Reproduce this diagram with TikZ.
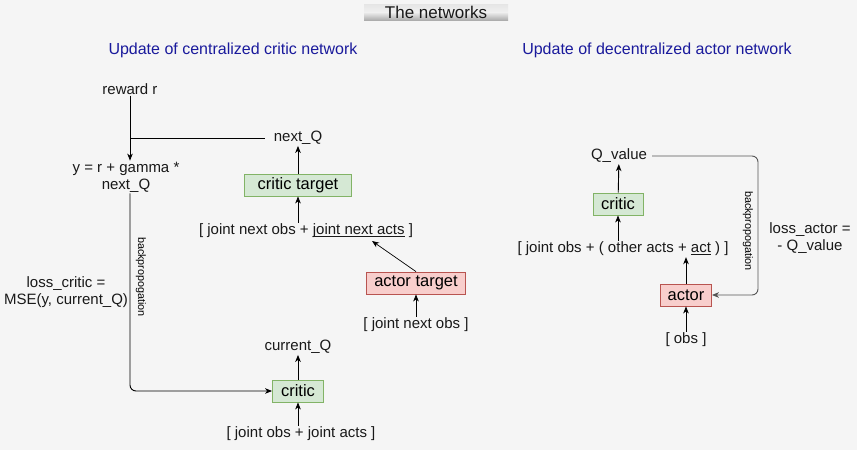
\documentclass[tikz,border=0pt]{standalone}
\usepackage{fontspec}
\setmainfont{Liberation Sans}
\usetikzlibrary{arrows.meta}
\definecolor{bgc}{HTML}{F5F5F5}
\definecolor{gfill}{HTML}{D5E8D4}
\definecolor{gdraw}{HTML}{82B366}
\definecolor{rfill}{HTML}{F8CECC}
\definecolor{rdraw}{HTML}{B85450}
\definecolor{headblue}{HTML}{1A1A9C}
\definecolor{fbgray}{HTML}{555555}
\newcommand\myul[1]{\setbox0\hbox{#1}\rlap{\rule[-1.8pt]{\wd0}{0.7pt}}\copy0\relax}
\begin{document}
\begin{tikzpicture}[x=1pt,y=-1pt,
  lbl/.style={font=\fontsize{15}{17}\selectfont, inner sep=1pt, align=center, text=black!90},
  box/.style={draw, line width=0.8pt, font=\fontsize{16.5}{18}\selectfont, inner sep=0pt, minimum height=22pt},
  gbox/.style={box, fill=gfill, draw=gdraw},
  rbox/.style={box, fill=rfill, draw=rdraw},
  arr/.style={-{Stealth[length=7pt,width=5.5pt,inset=2pt]}, line width=0.9pt},
  head/.style={font=\fontsize{16}{18}\selectfont, text=headblue},
  bp/.style={font=\fontsize{10.8}{12}\selectfont, rotate=-90, inner sep=0pt}]
\fill[bgc] (0,0) rectangle (857,450);
\useasboundingbox (0,0) rectangle (857,450);
% title
\shade[top color=black!10, bottom color=black!32, middle color=black!6] (364,4) rectangle (508,20);
\node[font=\fontsize{17}{19}\selectfont, text=black!90, inner sep=0pt] (title) at (436,12) {The networks};
% headings
\node[head] (hl) at (233,50) {Update of centralized critic network};
\node[head] (hr) at (657,50) {Update of decentralized actor network};
% left part
\node[lbl] (rew) at (130,89) {reward r};
\node[lbl] (yv) at (126,177) {y = r + gamma *\\next\_Q};
\node[lbl] (nq) at (298,138) {next\_Q};
\node[gbox, minimum width=107pt] (ct) at (298,185) {critic target};
\node[lbl] (jn) at (306,231) {[ joint next obs + \myul{joint next acts} ]};
\node[rbox, minimum width=99pt] (at) at (416,283) {actor target};
\node[lbl] (jno) at (416,325) {[ joint next obs ]};
\node[lbl] (loss) at (66,292) {loss\_critic =\\MSE(y, current\_Q)};
\node[lbl] (cq) at (298,347) {current\_Q};
\node[gbox, minimum width=51pt] (cr) at (298,391) {critic};
\node[lbl] (ja) at (301,434) {[ joint obs + joint acts ]};
\node[bp] (bpl) at (141,277) {backpropogation};
\coordinate (ulend) at (372,241);
\draw[arr] (rew) -- (yv.north -| rew);
\draw[line width=0.9pt, shorten <=8pt] (nq.west) -- (nq.west -| rew);
\draw[arr] (ct) -- (nq);
\draw[arr] (jn.north -| ct) -- (ct.south);
\draw[arr, line width=0.7pt] (at.north) -- (ulend);
\draw[arr] (jno) -- (at);
\draw[arr] (cr) -- (cq);
\draw[arr] (ja.north -| cr) -- (cr.south);
\draw[arr, rounded corners=6pt] (yv.south -| rew) |- (cr.west);
% right part
\node[lbl] (qv) at (619,156) {Q\_value};
\node[gbox, minimum width=50pt] (rc) at (618,204) {critic};
\node[lbl] (jo) at (623,249) {[ joint obs + ( other acts + \myul{act} ) ]};
\node[rbox, minimum width=51pt] (ac) at (686,295) {actor};
\node[lbl] (ob) at (686,340) {[ obs ]};
\node[lbl] (la) at (810,238) {loss\_actor =\\- Q\_value};
\node[bp] (bpr) at (748,231) {backpropogation};
\coordinate (fbr) at (758,0);
\draw[arr] (rc) -- (qv);
\draw[arr] (jo.north -| rc) -- (rc.south);
\draw[arr] (ac.north) -- (jo.south -| ac);
\draw[arr] (ob) -- (ac);
\draw[arr, draw=fbgray, rounded corners=6pt, shorten <=4pt] (qv.east) -- (qv.east -| fbr) |- (ac.east);
\end{tikzpicture}
\end{document}
